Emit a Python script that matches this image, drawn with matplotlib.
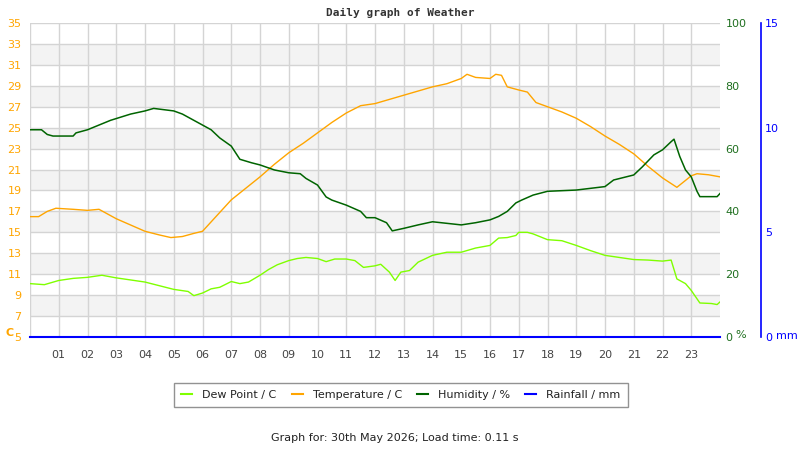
import matplotlib
matplotlib.use('Agg')
import matplotlib.pyplot as plt
from matplotlib.lines import Line2D

# ---- data ----
temp_hours = [0, 0.3, 0.6, 0.9, 1.5, 2.0, 2.4, 2.6, 3.0, 3.5, 4.0, 4.5, 4.9, 5.3, 5.7, 6.0,
              6.5, 7.0, 7.5, 8.0, 8.5, 9.0, 9.5, 10.0, 10.5, 11.0, 11.5, 12.0, 12.5, 13.0,
              13.5, 14.0, 14.5, 15.0, 15.2, 15.5, 16.0, 16.2, 16.4, 16.6, 17.0, 17.3, 17.6,
              18.0, 18.5, 19.0, 19.5, 20.0, 20.5, 21.0, 21.5, 22.0, 22.5, 23.0, 23.2, 23.6, 24.0]
temp_vals = [16.5, 16.5, 17.0, 17.3, 17.2, 17.1, 17.2, 16.9, 16.3, 15.7, 15.1, 14.75, 14.5, 14.6, 14.9, 15.1,
             16.6, 18.1, 19.2, 20.3, 21.5, 22.6, 23.5, 24.5, 25.5, 26.4, 27.1, 27.3, 27.7, 28.1,
             28.5, 28.9, 29.2, 29.7, 30.1, 29.8, 29.7, 30.1, 30.0, 28.9, 28.6, 28.4, 27.4,
             27.0, 26.5, 25.9, 25.1, 24.2, 23.4, 22.5, 21.3, 20.2, 19.3, 20.4, 20.6, 20.5, 20.3]

dew_hours = [0, 0.5, 1.0, 1.5, 2.0, 2.5, 3.0, 3.5, 4.0, 4.5, 5.0, 5.5, 5.7, 6.0, 6.3, 6.6, 7.0,
             7.3, 7.6, 8.0, 8.3, 8.6, 9.0, 9.3, 9.6, 10.0, 10.3, 10.6, 11.0, 11.3, 11.6, 12.0,
             12.2, 12.5, 12.7, 12.9, 13.2, 13.5, 14.0, 14.5, 15.0, 15.5, 16.0, 16.3, 16.6, 16.9,
             17.0, 17.3, 17.5, 18.0, 18.5, 19.0, 19.5, 20.0, 20.5, 21.0, 21.5, 22.0, 22.3, 22.5,
             22.8, 23.0, 23.3, 23.7, 23.9, 24.0]
dew_vals = [10.1, 10.0, 10.4, 10.6, 10.7, 10.9, 10.65, 10.45, 10.25, 9.9, 9.55, 9.35, 8.95, 9.2, 9.6, 9.75, 10.3,
            10.1, 10.25, 10.9, 11.45, 11.9, 12.3, 12.5, 12.6, 12.5, 12.2, 12.45, 12.45, 12.3, 11.65, 11.8,
            11.95, 11.2, 10.4, 11.2, 11.35, 12.15, 12.8, 13.1, 13.1, 13.5, 13.75, 14.45, 14.5, 14.7,
            15.0, 15.0, 14.85, 14.3, 14.2, 13.75, 13.25, 12.8, 12.6, 12.4, 12.35, 12.25, 12.35, 10.55,
            10.1, 9.45, 8.25, 8.2, 8.1, 8.35]

hum_hours = [0, 0.4, 0.6, 0.8, 1.5, 1.6, 2.0, 2.4, 2.8, 3.5, 4.0, 4.3, 5.0, 5.3, 5.7, 6.0, 6.3,
             6.6, 7.0, 7.3, 7.7, 8.0, 8.5, 9.0, 9.4, 9.6, 10.0, 10.3, 10.5, 11.0, 11.5, 11.7,
             12.0, 12.4, 12.6, 13.0, 13.5, 14.0, 14.5, 15.0, 15.5, 16.0, 16.3, 16.6, 16.9, 17.1,
             17.5, 18.0, 19.0, 20.0, 20.3, 21.0, 21.3, 21.7, 22.0, 22.3, 22.4, 22.6, 22.8, 23.0,
             23.2, 23.3, 23.9, 24.0]
hum_vals = [66, 66, 64.5, 64, 64, 65, 66, 67.5, 69, 71, 72, 72.8, 72.0, 71, 69, 67.5, 66,
            63.4, 60.8, 56.6, 55.5, 54.8, 53.2, 52.3, 52, 50.5, 48.4, 44.6, 43.6, 42, 40, 38,
            38, 36.4, 33.8, 34.6, 35.7, 36.7, 36.2, 35.7, 36.4, 37.3, 38.4, 40, 42.7, 43.6,
            45.2, 46.4, 46.8, 47.9, 50, 51.6, 54.2, 58, 59.6, 62.2, 63, 57.5, 53.2, 51,
            46.4, 44.7, 44.7, 45.7]

rain_hours = [0, 24]
rain_vals = [0, 0]

x_labels = ['%02d' % h for h in range(1, 24)]
temp_ticks = list(range(5, 36, 2))
hum_ticks = list(range(0, 101, 20))
rain_ticks = [0, 5, 10, 15]

C_TEMP = '#FFA500'
C_DEW = '#7FFF00'
C_HUM = '#006400'
C_HUMTXT = '#1f6f1f'
C_RAIN = '#0000FF'
GRID = '#d4d4d4'
BAND = '#f3f3f3'

fig = plt.figure(figsize=(8, 4.5), dpi=100)
ax = fig.add_axes([30 / 800, 1 - 337 / 450, 690 / 800, 314 / 450])
ax.set_xlim(0, 24)
ax.set_ylim(5, 35)
for lo in range(7, 35, 4):
    ax.axhspan(lo, lo + 2, color=BAND, zorder=0, lw=0)
for y in range(7, 36, 2):
    ax.axhline(y, color=GRID, lw=1, zorder=0.5)
for x in range(0, 24):
    ax.axvline(x, color=GRID, lw=1, zorder=0.5)
for s in ax.spines.values():
    s.set_visible(False)

ax.plot(dew_hours, dew_vals, color=C_DEW, lw=1.0, zorder=2)
ax.plot(temp_hours, temp_vals, color=C_TEMP, lw=1.0, zorder=2)

ax.set_yticks(temp_ticks)
ax.set_yticklabels([str(t) for t in temp_ticks])
ax.tick_params(axis='y', length=0, pad=6, labelcolor=C_TEMP, labelsize=8)
ax.set_xticks(range(1, 24))
ax.set_xticklabels(x_labels)
ax.tick_params(axis='x', length=0, pad=9, labelcolor='#444444', labelsize=8)

ax2 = ax.twinx()
ax2.set_ylim(0, 100)
ax2.plot(hum_hours, hum_vals, color=C_HUM, lw=1.1, zorder=3)
ax2.set_yticks(hum_ticks)
ax2.tick_params(axis='y', length=0, pad=4, labelcolor=C_HUMTXT, labelsize=8)
for s in ax2.spines.values():
    s.set_visible(False)

ax3 = ax.twinx()
ax3.set_ylim(0, 15)
ax3.plot(rain_hours, rain_vals, color=C_RAIN, lw=1.5, zorder=4, clip_on=False)
ax3.spines['right'].set_position(('axes', (761 - 30) / 690))
for k in ['top', 'left', 'bottom']:
    ax3.spines[k].set_visible(False)
ax3.spines['right'].set_color(C_RAIN)
ax3.spines['right'].set_linewidth(1.2)
ax3.set_yticks(rain_ticks)
ax3.tick_params(axis='y', length=0, pad=3, labelcolor=C_RAIN, labelsize=8)

# axis unit labels
fig.text(5 / 800, 1 - 333 / 450, 'C', color=C_TEMP, fontsize=8, fontweight='bold', va='center', ha='left')
fig.text(735 / 800, 1 - 335 / 450, '%', color=C_HUMTXT, fontsize=8, va='center', ha='left')
fig.text(776 / 800, 1 - 336 / 450, 'mm', color=C_RAIN, fontsize=8, va='center', ha='left')

fig.text(400 / 800, 1 - 13 / 450, 'Daily graph of Weather', family='DejaVu Sans Mono',
         fontweight='bold', fontsize=8, color='#333333', ha='center', va='center')

handles = [Line2D([], [], color=C_DEW, lw=1.5),
           Line2D([], [], color=C_TEMP, lw=1.5),
           Line2D([], [], color=C_HUM, lw=1.5),
           Line2D([], [], color=C_RAIN, lw=1.5)]
labels = ['Dew Point / C', 'Temperature / C', 'Humidity / %', 'Rainfall / mm']
leg = fig.legend(handles, labels, loc='center', bbox_to_anchor=(401 / 800, 1 - 395 / 450),
                 ncol=4, fontsize=8, frameon=True, fancybox=False, handlelength=1.0,
                 handletextpad=0.9, columnspacing=1.35, borderpad=0.65, labelcolor='#222222')
leg.get_frame().set_edgecolor('#777777')
leg.get_frame().set_linewidth(1.0)

fig.text(395 / 800, 1 - 438 / 450, 'Graph for: 30th May 2026; Load time: 0.11 s',
         fontsize=8, color='#222222', ha='center', va='center')

fig.savefig('out.png', dpi=100)
